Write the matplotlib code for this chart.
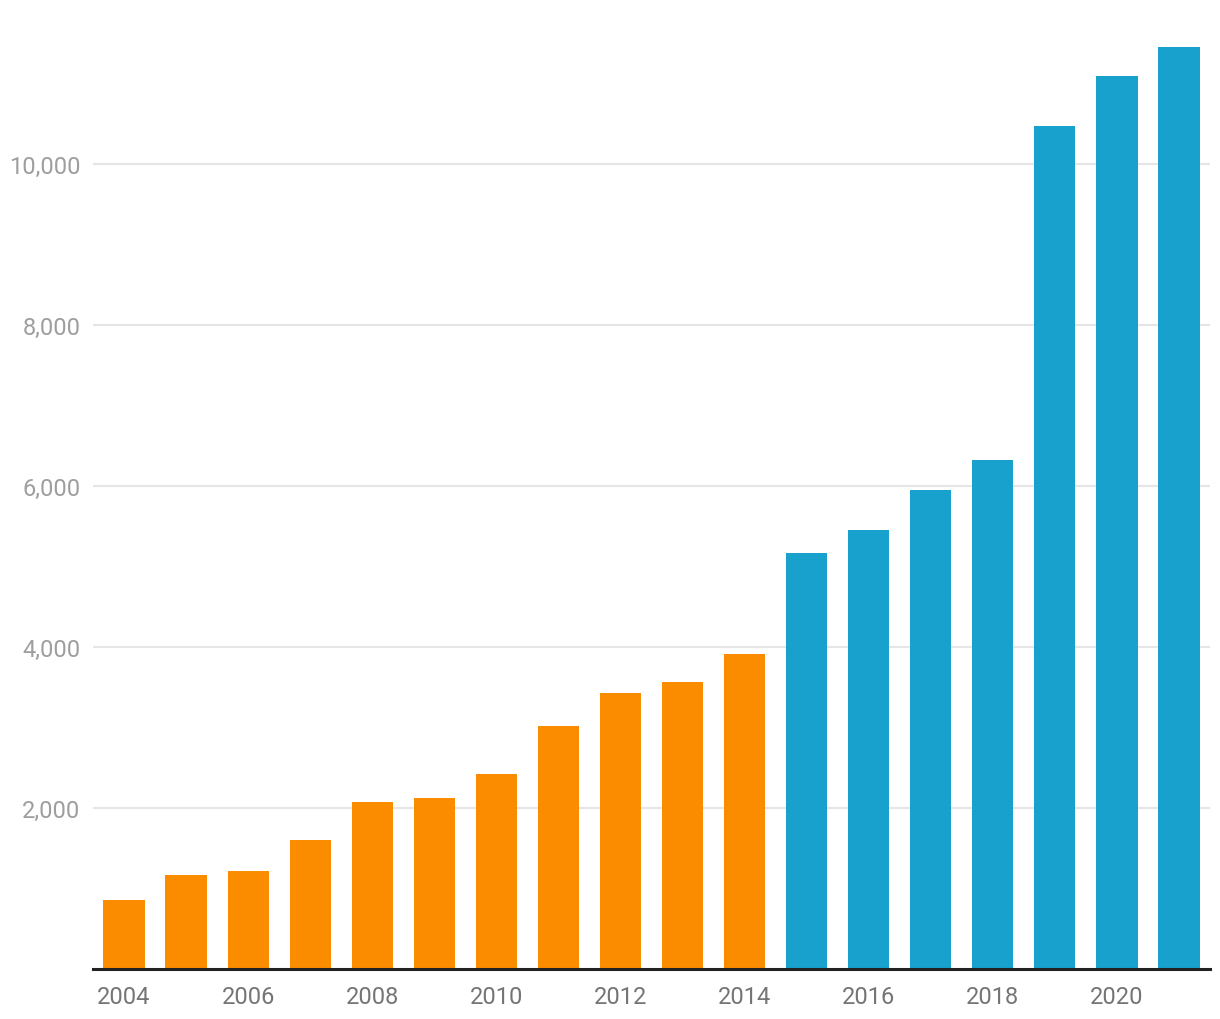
import matplotlib
matplotlib.use("Agg")
import matplotlib.pyplot as plt
from matplotlib.ticker import FuncFormatter

years = list(range(2004, 2022))
values = [846, 1157, 1206, 1592, 2065, 2114, 2413, 3010, 3420, 3557, 3905,
          5162, 5448, 5945, 6318, 10473, 11095, 11455]
split_year = 2015
orange = "#FB8C00"
blue = "#19A1CD"
colors = [orange if y < split_year else blue for y in years]

plt.rcParams['font.family'] = ['Roboto', 'DejaVu Sans']

fig = plt.figure(figsize=(12.2, 10.2), dpi=100)
W, H = 1220, 1020
left, right = 93 / W, 1210 / W
bottom, top = (H - 969.5) / H, (H - 44.5) / H
ax = fig.add_axes([left, bottom, right - left, top - bottom])

x = list(range(len(years)))
ax.bar(x, values, width=0.665, color=colors, zorder=2)
ax.set_xlim(-0.5, len(years) - 0.5)
ax.set_ylim(0, 11500)

ax.set_yticks([2000, 4000, 6000, 8000, 10000])
ax.yaxis.set_major_formatter(FuncFormatter(lambda v, p: f"{int(v):,}"))
ax.grid(axis='y', color='#e6e6e6', linewidth=1.5, zorder=0)
ax.set_axisbelow(True)

tick_pos = [i for i, y in enumerate(years) if y % 2 == 0]
ax.set_xticks(tick_pos)
ax.set_xticklabels([str(years[i]) for i in tick_pos])

for s in ['top', 'right', 'left']:
    ax.spines[s].set_visible(False)
ax.spines['bottom'].set_color('#222222')
ax.spines['bottom'].set_linewidth(2.2)
ax.spines['bottom'].set_zorder(3)

ax.tick_params(axis='y', length=0, pad=9, labelsize=17, labelcolor='#9e9e9e')
ax.tick_params(axis='x', length=0, pad=12, labelsize=17, labelcolor='#757575')

fig.savefig("out.png", dpi=100)
